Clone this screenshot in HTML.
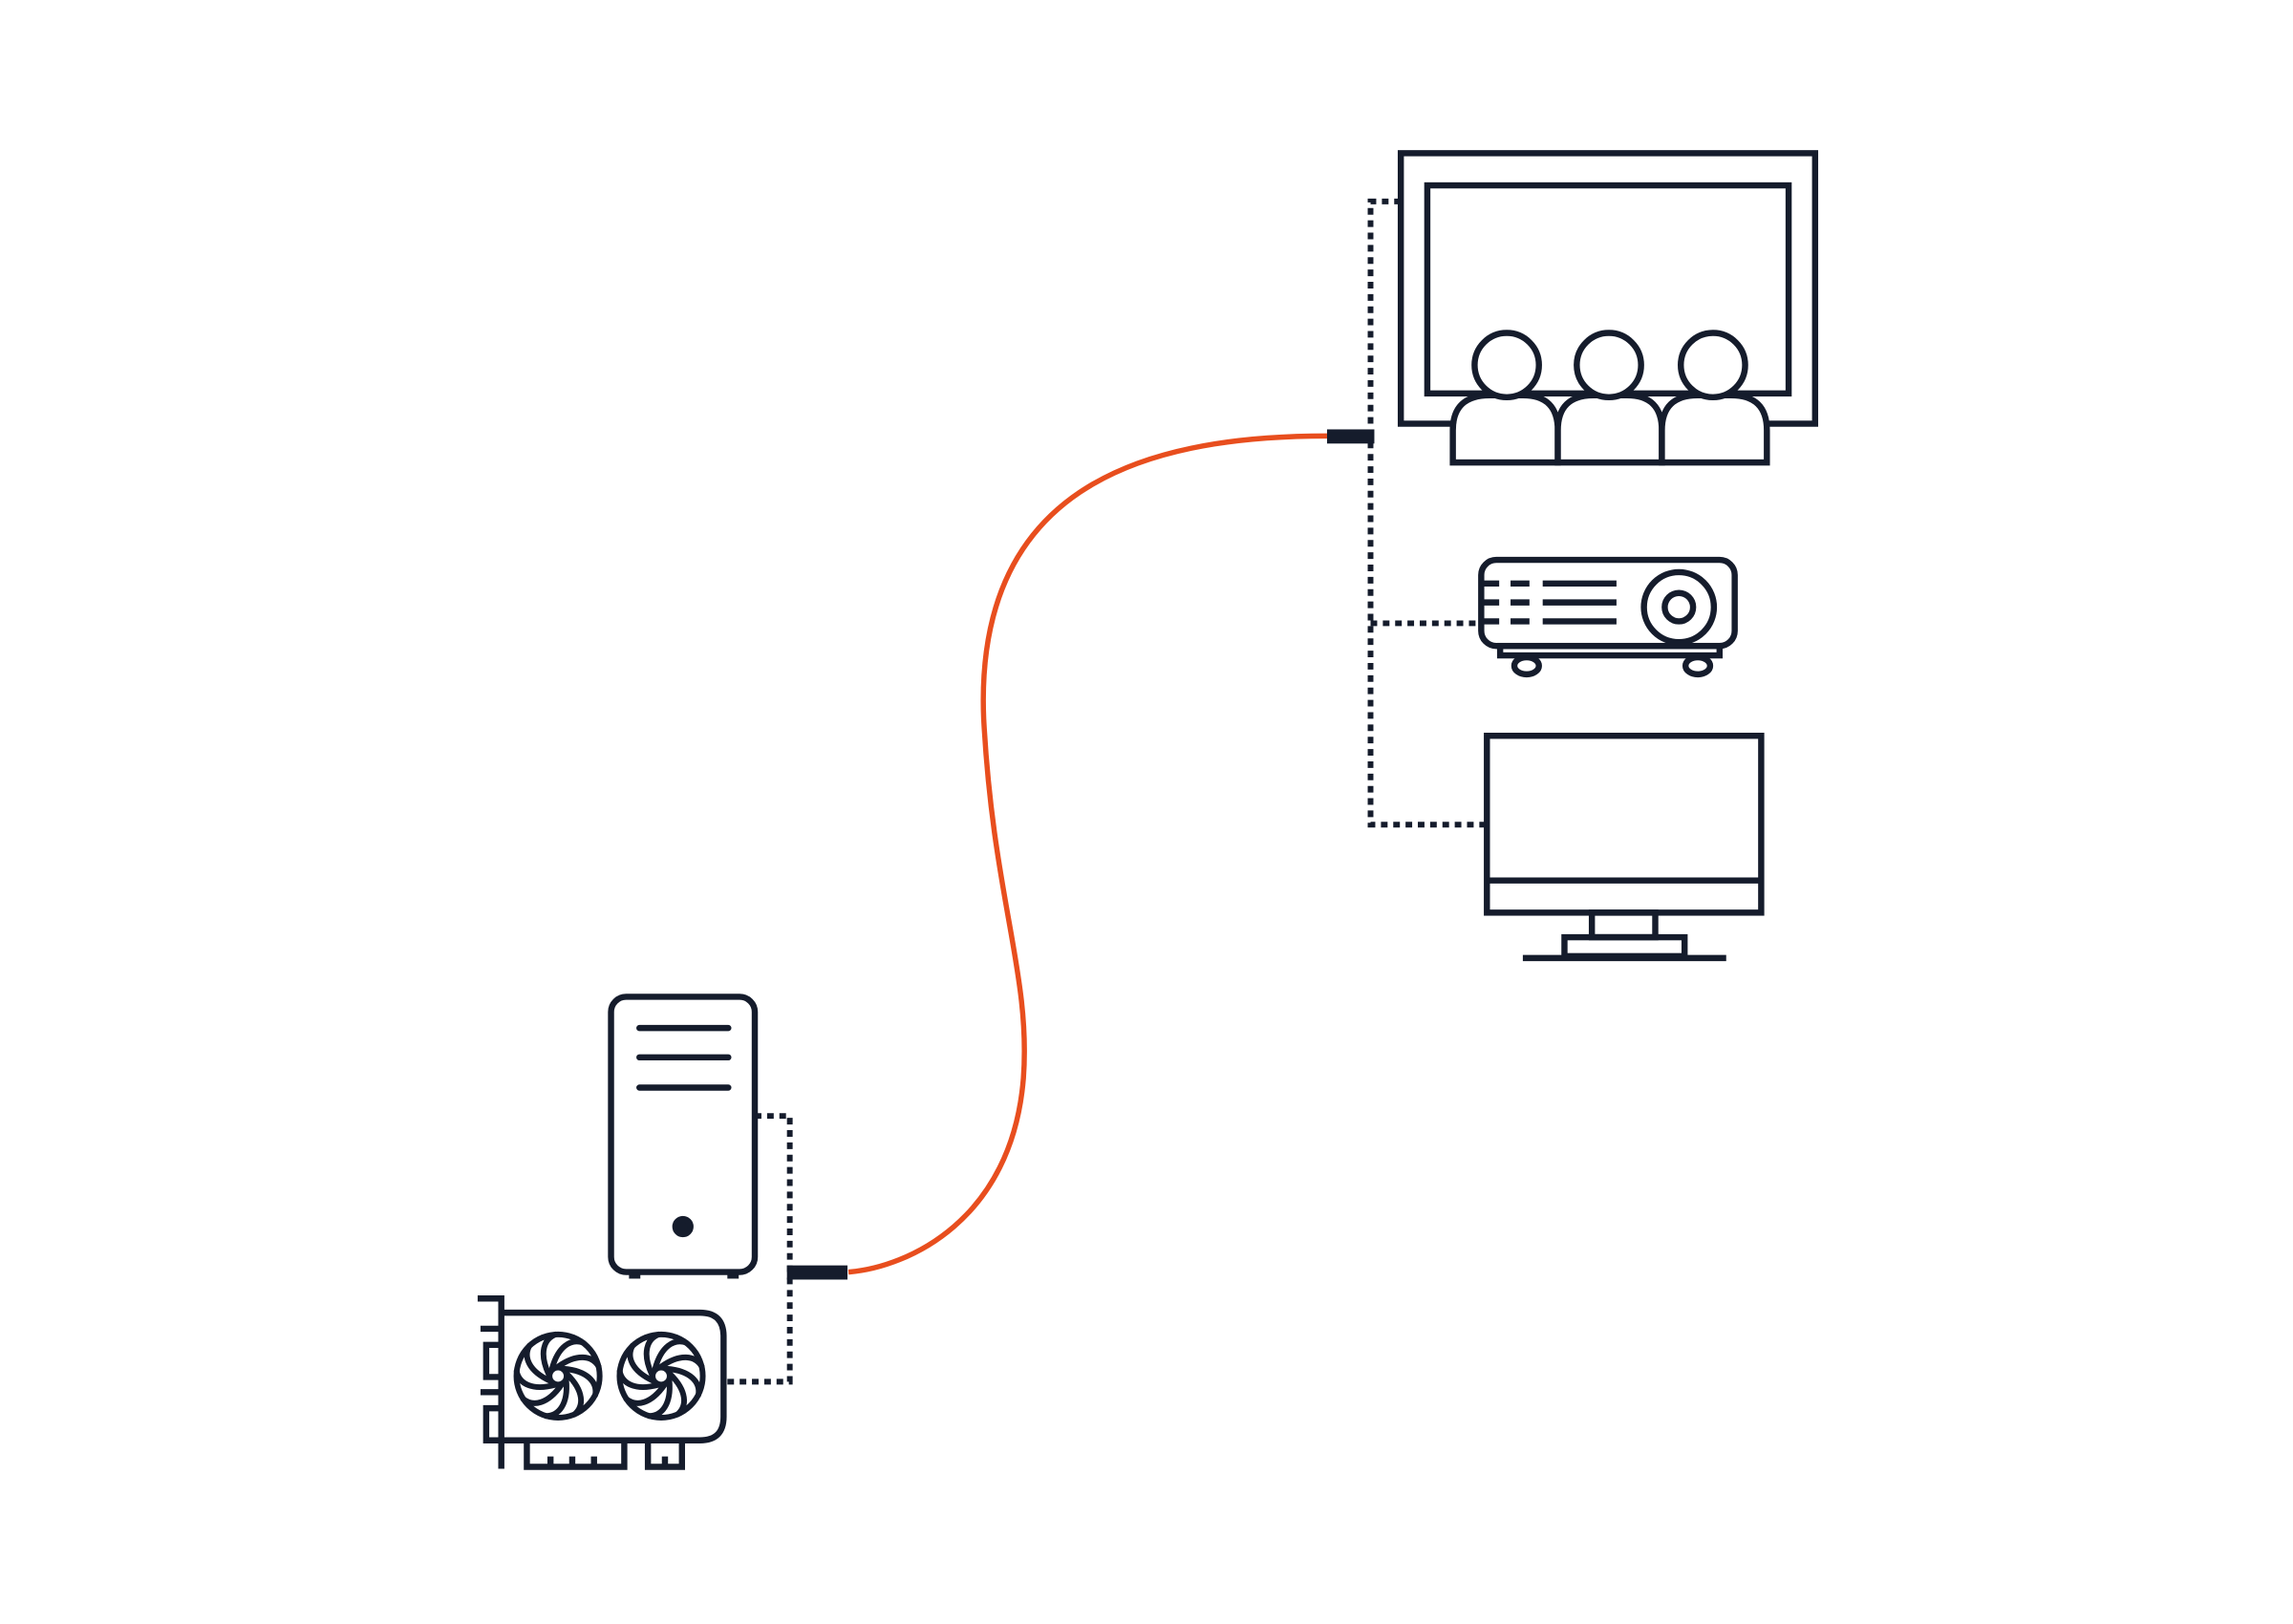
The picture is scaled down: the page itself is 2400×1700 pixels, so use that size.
<!DOCTYPE html>
<html><head><style>html,body{margin:0;padding:0;background:#fff}svg{display:block}</style></head>
<body>
<svg width="2400" height="1700" viewBox="0 0 2400 1700" xmlns="http://www.w3.org/2000/svg">
<defs>
<g id="fan" fill="none" stroke="#151c2c" stroke-width="6" stroke-linecap="round">
<circle r="44"/>
<circle r="9"/>
<g id="bl"><path d="M0,-10 C20,-24 36,-22 43,-10"/></g>
<use href="#bl" transform="rotate(40)"/><use href="#bl" transform="rotate(80)"/><use href="#bl" transform="rotate(120)"/><use href="#bl" transform="rotate(160)"/><use href="#bl" transform="rotate(200)"/><use href="#bl" transform="rotate(240)"/><use href="#bl" transform="rotate(280)"/><use href="#bl" transform="rotate(320)"/>
</g>
</defs>
<g transform="scale(0.99)">
<g fill="none" stroke="#151c2c" stroke-width="6.5">
<rect x="1481" y="162" width="438" height="286"/>
<rect x="1509" y="196" width="382" height="220" fill="#fff"/>
<g fill="#fff">
<path d="M1536,489 V455 Q1536,418 1575,418 H1610 Q1647,418 1647,455 V489 Z"/>
<path d="M1647,489 V455 Q1647,418 1685,418 H1720 Q1757,418 1757,455 V489 Z"/>
<path d="M1757,489 V455 Q1757,418 1795,418 H1830 Q1868,418 1868,455 V489 Z"/>
<circle cx="1593" cy="386" r="34"/><circle cx="1701" cy="386" r="34"/><circle cx="1811" cy="386" r="34"/>
</g>
<rect x="1566" y="592" width="268" height="91" rx="16"/>
<circle cx="1775" cy="642" r="37"/><circle cx="1775" cy="642" r="15"/>
<path d="M1566,617 H1585 M1597,617 H1617 M1631,617 H1709 M1566,637 H1585 M1597,637 H1617 M1631,637 H1709 M1566,657 H1585 M1597,657 H1617 M1631,657 H1709"/>
<rect x="1586" y="683" width="232" height="10"/>
<ellipse cx="1614" cy="704" rx="13" ry="9"/><ellipse cx="1795" cy="704" rx="13" ry="9"/>
<rect x="1572" y="778" width="290" height="187"/>
<line x1="1572" y1="931" x2="1862" y2="931"/>
<rect x="1683" y="965" width="67" height="26"/>
<rect x="1654" y="991" width="127" height="20"/>
<line x1="1610" y1="1013" x2="1825" y2="1013"/>
<rect x="646" y="1054" width="152" height="291" rx="16"/>
<path d="M676,1087 H770 M676,1118 H770 M676,1150 H770" stroke-linecap="round"/>
<circle cx="722" cy="1297" r="8" fill="#151c2c"/>
<rect x="665" y="1345" width="12" height="7" fill="#151c2c" stroke="none"/>
<rect x="769" y="1345" width="12" height="7" fill="#151c2c" stroke="none"/>
<path d="M505,1373 H530 V1553"/>
<path d="M530,1388 H740 Q765,1388 765,1413 V1498 Q765,1523 740,1523 H530"/>
<path d="M530,1422 H514 V1456 H530 M530,1489 H514 V1523 H530 M530,1405 H508 M530,1472 H508"/>
<path d="M557,1523 V1551 H660 V1523 M582,1551 V1540 M605,1551 V1540 M628,1551 V1540"/>
<path d="M685,1523 V1551 H721 V1523 M703,1551 V1540"/>
</g>
<use href="#fan" x="590" y="1455"/>
<use href="#fan" x="699" y="1455"/>
<g fill="none" stroke="#151c2c" stroke-width="6" stroke-dasharray="7 6">
<path d="M1481,213 H1449 V872 H1572"/>
<path d="M1449,659 H1566"/>
<path d="M798,1180 H835 V1461 H768"/>
</g>
<path d="M1403,461 C1200,461 1030,520 1040,760 C1050,950 1090,1030 1082,1140 C1070,1290 960,1340 897,1345" fill="none" stroke="#e84e1e" stroke-width="5.5"/>
<rect x="1403" y="454" width="50" height="15" fill="#151c2c"/>
<rect x="832" y="1338" width="64" height="15" fill="#151c2c"/>
</g>
</svg>
</body></html>
